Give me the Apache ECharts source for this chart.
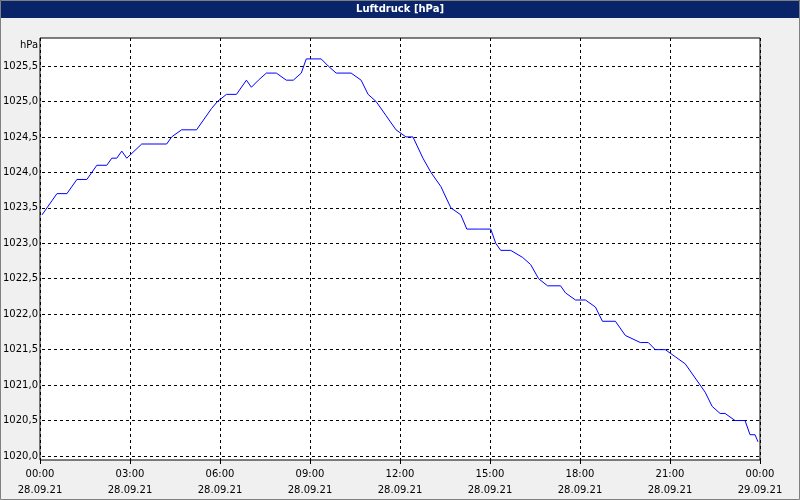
<!DOCTYPE html>
<html>
<head>
<meta charset="utf-8">
<script src="https://cdn.jsdelivr.net/npm/echarts@6/dist/echarts.min.js"></script>
<style>html,body{margin:0;padding:0;background:#f0f0f0}#chart{width:800px;height:500px}</style>
</head>
<body>
<div id="chart"></div>
<script>
// Zeit in Minuten ab 28.09.21 00:00
var minutes = [0, 20, 30, 50, 70, 90, 110, 130, 140, 150, 160, 170, 200, 250, 260, 280, 310, 340, 352, 370, 390, 410, 420, 434, 450, 470, 490, 504, 520, 530, 560, 574, 590, 620, 640, 654, 670, 690, 710, 730, 744, 764, 780, 800, 820, 840, 852, 876, 900, 910, 920, 940, 964, 980, 996, 1014, 1040, 1050, 1070, 1090, 1110, 1124, 1150, 1170, 1200, 1216, 1230, 1250, 1270, 1290, 1310, 1330, 1344, 1360, 1370, 1390, 1410, 1420, 1430, 1436];
var pressure = [1023.4, 1023.6, 1023.7, 1023.7, 1023.9, 1023.9, 1024.1, 1024.1, 1024.2, 1024.2, 1024.3, 1024.2, 1024.4, 1024.4, 1024.5, 1024.6, 1024.6, 1024.9, 1025.0, 1025.1, 1025.1, 1025.3, 1025.2, 1025.3, 1025.4, 1025.4, 1025.3, 1025.3, 1025.4, 1025.6, 1025.6, 1025.5, 1025.4, 1025.4, 1025.3, 1025.1, 1025.0, 1024.8, 1024.6, 1024.5, 1024.5, 1024.2, 1024.0, 1023.8, 1023.5, 1023.4, 1023.2, 1023.2, 1023.2, 1023.0, 1022.9, 1022.9, 1022.8, 1022.7, 1022.5, 1022.4, 1022.4, 1022.3, 1022.2, 1022.2, 1022.1, 1021.9, 1021.9, 1021.7, 1021.6, 1021.6, 1021.5, 1021.5, 1021.4, 1021.3, 1021.1, 1020.9, 1020.7, 1020.6, 1020.6, 1020.5, 1020.5, 1020.3, 1020.3, 1020.2];
var timeLabels = ['00:00', '03:00', '06:00', '09:00', '12:00', '15:00', '18:00', '21:00', '00:00'];
var dateLabels = ['28.09.21', '28.09.21', '28.09.21', '28.09.21', '28.09.21', '28.09.21', '28.09.21', '28.09.21', '29.09.21'];

var chart = echarts.init(document.getElementById('chart'));
var font = 'DejaVu Sans';
var data = minutes.map(function (m, i) { return [m, pressure[i]]; });

chart.setOption({
    animation: false,
    backgroundColor: '#f0f0f0',
    graphic: [
        { type: 'rect', shape: { x: 0, y: 0, width: 800, height: 18 }, style: { fill: '#0a246a' } },
        { type: 'text', x: 400, y: 9, style: { text: 'Luftdruck [hPa]', fill: '#fff', font: 'bold 10px ' + font, align: 'center', verticalAlign: 'middle' } },
        { type: 'text', x: 20, y: 40, style: { text: 'hPa', fill: '#000', font: '10px ' + font } },
        { type: 'rect', shape: { x: 0.5, y: 0.5, width: 799, height: 499 }, style: { fill: null, stroke: '#808080' } }
    ],
    grid: [
        { left: 40, right: 40, top: 38, bottom: 40, show: true, backgroundColor: '#fff', borderColor: '#000', borderWidth: 1 },
        { left: 40, right: 40, top: 66, bottom: 44 }
    ],
    xAxis: [{
        gridIndex: 0, type: 'value', min: 0, max: 1440, interval: 180,
        axisLine: { show: false },
        axisTick: { show: true, length: 4, lineStyle: { color: '#000' } },
        axisLabel: {
            color: '#000', fontFamily: font, fontSize: 10, lineHeight: 16, margin: 6,
            formatter: function (v) { var i = v / 180; return timeLabels[i] + '\n' + dateLabels[i]; }
        },
        splitLine: { show: true, lineStyle: { color: '#000', type: [3, 3] } }
    }, {
        gridIndex: 1, type: 'value', min: 0, max: 1440, show: false
    }],
    yAxis: [{
        gridIndex: 0, type: 'value', min: 0, max: 1, show: false
    }, {
        gridIndex: 1, type: 'value', min: 1020, max: 1025.5, interval: 0.5,
        axisLine: { show: false },
        axisTick: { show: false },
        axisLabel: {
            color: '#000', fontFamily: font, fontSize: 10, margin: 4,
            formatter: function (v) { return v.toFixed(1).replace('.', ','); }
        },
        splitLine: { show: true, lineStyle: { color: '#000', type: [3, 3] } }
    }],
    series: [{
        type: 'line', xAxisIndex: 1, yAxisIndex: 1, data: data, clip: false,
        showSymbol: false, lineStyle: { color: '#0000ff', width: 1 }
    }]
});
</script>
</body>
</html>
